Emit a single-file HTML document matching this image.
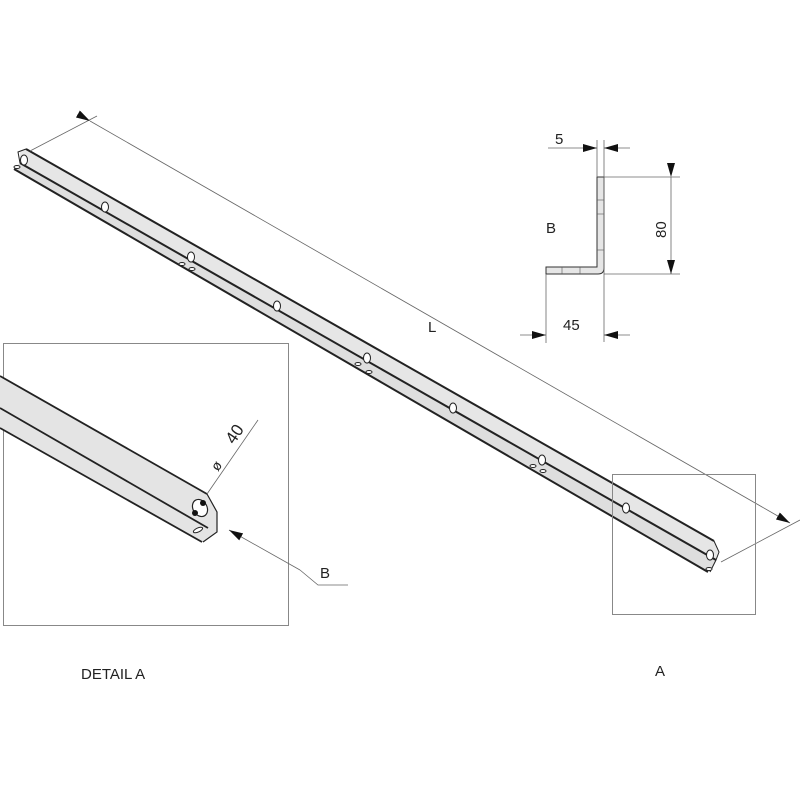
<!DOCTYPE html>
<html><head><style>body{margin:0;background:#fff}svg{display:block}text{font-family:"Liberation Sans",sans-serif;fill:#222}</style></head><body>
<svg width="800" height="800" viewBox="0 0 800 800" xmlns="http://www.w3.org/2000/svg">
<defs><marker id="a" markerWidth="14" markerHeight="8" refX="14" refY="4" orient="auto" markerUnits="userSpaceOnUse"><path d="M0,0L14,4L0,8z" fill="#111"/></marker></defs>
<!-- main bar -->
<polygon points="20,152 26,149 714,541 718,552 716,560 20,163" fill="#e6e6e6"/>
<polygon points="20,163 716,560 710,572 14,168" fill="#dedede"/>
<g stroke="#222" stroke-width="2" fill="none">
<line x1="26" y1="149" x2="714" y2="541"/>
<line x1="20" y1="163" x2="716" y2="560"/>
<line x1="14" y1="169" x2="708" y2="572"/>
</g>
<g stroke="#222" stroke-width="1" fill="#fff">
<path d="M20,163 L18,152 L26,149" fill="none"/>
<path d="M714,541 L719,552 L716,560 L710,572" fill="none"/>
<ellipse cx="24" cy="160" rx="3.5" ry="5"/><ellipse cx="105" cy="207" rx="3.5" ry="5"/><ellipse cx="191" cy="257" rx="3.5" ry="5"/><ellipse cx="277" cy="306" rx="3.5" ry="5"/><ellipse cx="367" cy="358" rx="3.5" ry="5"/><ellipse cx="453" cy="408" rx="3.5" ry="5"/><ellipse cx="542" cy="460" rx="3.5" ry="5"/><ellipse cx="626" cy="508" rx="3.5" ry="5"/><ellipse cx="710" cy="555" rx="3.5" ry="5"/>
<ellipse cx="17" cy="167" rx="3" ry="1.5"/><ellipse cx="182" cy="264" rx="3" ry="1.5"/><ellipse cx="192" cy="269" rx="3" ry="1.5"/><ellipse cx="358" cy="364" rx="3" ry="1.5"/><ellipse cx="369" cy="372" rx="3" ry="1.5"/><ellipse cx="533" cy="466" rx="3" ry="1.5"/><ellipse cx="543" cy="471" rx="3" ry="1.5"/><ellipse cx="709" cy="569" rx="3" ry="1.5"/>
</g>
<!-- L dimension -->
<g stroke="#666" stroke-width="0.8" fill="none">
<line x1="30" y1="151" x2="97" y2="116"/>
<line x1="721" y1="562" x2="800" y2="520"/>
<line x1="90" y1="121" x2="790" y2="523" marker-start="url(#a)" marker-end="url(#a)"/>
</g>
<text x="428" y="332" font-size="15">L</text>
<!-- boxes -->
<rect x="3.5" y="343.5" width="285" height="282" fill="none" stroke="#888" stroke-width="1"/>
<rect x="612.5" y="474.5" width="143" height="140" fill="none" stroke="#888" stroke-width="1"/>
<text x="81" y="679" font-size="15">DETAIL  A</text>
<text x="655" y="676" font-size="15">A</text>
<!-- detail -->
<polygon points="0,376 207,494 217,512 217,532 203,542 0,428" fill="#e4e4e4"/>
<g stroke="#222" stroke-width="1.8" fill="none">
<line x1="0" y1="376" x2="207" y2="494"/>
<line x1="0" y1="408" x2="208" y2="528"/>
<line x1="0" y1="428" x2="202" y2="542"/>
<path d="M207,494 L217,512 L217,532 L203,542" stroke-width="1.2"/>
</g>
<ellipse cx="200" cy="508" rx="7" ry="9" fill="#fff" stroke="#222" stroke-width="1.2" transform="rotate(-30 200 508)"/>
<circle cx="203" cy="503" r="3" fill="#111"/><circle cx="195" cy="513" r="3" fill="#111"/>
<ellipse cx="198" cy="530" rx="5" ry="2" fill="#fff" stroke="#222" transform="rotate(-25 198 530)"/>
<g stroke="#666" stroke-width="0.8" fill="none">
<line x1="207" y1="494" x2="258" y2="420"/>
<path d="M300,570 L318,585 L348,585"/>
<line x1="300" y1="570" x2="229" y2="530" marker-end="url(#a)"/>
</g>
<text x="0" y="0" font-size="14" transform="translate(218,472) rotate(-56)">ø</text>
<text x="0" y="0" font-size="17" transform="translate(234,445) rotate(-56)">40</text>
<text x="320" y="578" font-size="15">B</text>
<!-- profile B -->
<path d="M597,177 L604,177 L604,268 Q604,274 598,274 L546,274 L546,267 L597,267 Z" fill="#e6e6e6" stroke="#333" stroke-width="1"/>
<g stroke="#555" stroke-width="0.6"><line x1="597" y1="200" x2="604" y2="200"/><line x1="597" y1="214" x2="604" y2="214"/><line x1="597" y1="250" x2="604" y2="250"/><line x1="562" y1="267" x2="562" y2="274"/><line x1="580" y1="267" x2="580" y2="274"/></g>
<g stroke="#666" stroke-width="0.8" fill="none">
<line x1="597" y1="140" x2="597" y2="177"/>
<line x1="604" y1="140" x2="604" y2="342"/>
<line x1="548" y1="148" x2="597" y2="148" marker-end="url(#a)"/>
<line x1="630" y1="148" x2="604" y2="148" marker-end="url(#a)"/>
<line x1="604" y1="177" x2="680" y2="177"/>
<line x1="604" y1="274" x2="680" y2="274"/>
<line x1="671" y1="177" x2="671" y2="274" marker-start="url(#a)" marker-end="url(#a)"/>
<line x1="546" y1="274" x2="546" y2="343"/>
<line x1="520" y1="335" x2="546" y2="335" marker-end="url(#a)"/>
<line x1="630" y1="335" x2="604" y2="335" marker-end="url(#a)"/>
</g>
<text x="555" y="144" font-size="15">5</text>
<text x="546" y="233" font-size="15">B</text>
<text x="563" y="330" font-size="15">45</text>
<text x="0" y="0" font-size="15" transform="translate(666,238) rotate(-90)">80</text>
</svg>
</body></html>
